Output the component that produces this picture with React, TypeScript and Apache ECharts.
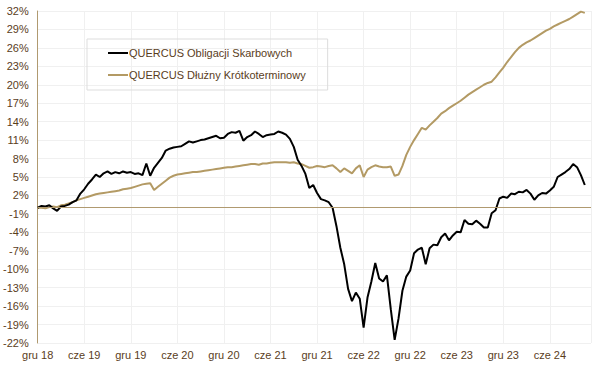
import React, { useEffect, useRef } from "react";
import * as echarts from "echarts";

// x positions in months since Dec 2018 (half-month steps)
const STEP_MONTHS = 0.5;

const xTickLabels = [
  "gru 18", "cze 19", "gru 19", "cze 20", "gru 20", "cze 21",
  "gru 21", "cze 22", "gru 22", "cze 23", "gru 23", "cze 24",
];

const seriesNames = [
  "QUERCUS Obligacji Skarbowych",
  "QUERCUS Dłużny Krótkoterminowy",
];

const obligacjiSkarbowych = [
  0.0, 0.3, 0.2, 0.4, -0.1, -0.5, 0.2, 0.3, 0.5, 0.9,
  1.2, 2.3, 3.0, 3.9, 4.6, 5.4, 5.0, 5.6, 5.9, 5.5,
  5.8, 5.6, 5.9, 5.7, 5.8, 5.5, 5.6, 5.3, 7.2, 5.2,
  6.5, 7.3, 8.1, 9.3, 9.6, 9.8, 9.9, 10.0, 10.4, 10.8,
  10.6, 10.8, 11.0, 11.1, 11.3, 11.5, 11.7, 11.3, 11.4, 12.0,
  12.3, 12.2, 12.5, 10.9, 11.5, 11.8, 12.4, 12.0, 11.5, 11.8,
  11.9, 12.0, 12.4, 12.2, 11.9, 11.2, 9.9, 7.8, 6.8, 5.5,
  3.2, 3.7, 2.4, 1.4, 1.2, 0.9, 0.0, -3.0, -6.5, -9.2,
  -13.2, -15.2, -13.8, -14.8, -19.5, -14.6, -12.0, -9.0, -11.5, -12.0,
  -11.0, -16.5, -21.5, -18.0, -13.5, -11.2, -10.2, -7.4, -6.8, -6.5,
  -9.2, -6.6, -6.0, -6.1, -4.8, -4.2, -5.3, -4.5, -3.9, -4.0,
  -2.0, -2.6, -2.7, -2.1, -2.6, -3.2, -3.2, -0.9, -0.4, 1.5,
  1.8, 1.6, 2.3, 2.2, 2.6, 2.5, 2.9, 2.3, 1.3, 2.0,
  2.4, 2.3, 2.8, 3.4, 5.0, 5.4, 5.8, 6.3, 7.1, 6.6,
  5.3, 3.7,
];

const dluznyKrotkoterminowy = [
  0.0, 0.0, -0.1, 0.1, 0.2, 0.1, 0.4, 0.5, 0.7, 0.9,
  1.2, 1.4, 1.6, 1.8, 2.0, 2.2, 2.3, 2.4, 2.5, 2.6,
  2.7, 2.8, 3.0, 3.1, 3.2, 3.4, 3.6, 3.8, 3.9, 4.0,
  2.9, 3.4, 3.9, 4.4, 4.9, 5.2, 5.4, 5.5, 5.6, 5.7,
  5.8, 5.8, 5.9, 6.0, 6.1, 6.2, 6.3, 6.4, 6.5, 6.6,
  6.6, 6.7, 6.8, 6.9, 7.0, 7.1, 7.1, 7.0, 7.2, 7.2,
  7.3, 7.4, 7.4, 7.4, 7.4, 7.3, 7.4, 7.2, 7.1, 6.8,
  6.5, 6.6, 6.8, 6.7, 6.6, 6.8, 6.9, 6.4, 5.8, 6.4,
  6.0, 5.6, 6.4, 6.9, 5.0, 6.2, 6.6, 6.9, 6.7, 6.6,
  6.6, 6.7, 5.2, 5.4, 6.8, 8.6, 9.9, 11.0, 12.0, 13.0,
  12.7, 13.4, 14.0, 14.6, 15.3, 15.7, 16.2, 16.6, 17.0, 17.4,
  17.9, 18.4, 18.8, 19.2, 19.6, 20.0, 20.3, 20.5, 21.2, 22.0,
  22.8, 23.7, 24.5, 25.3, 26.0, 26.5, 26.9, 27.2, 27.6, 28.0,
  28.4, 28.8, 29.1, 29.5, 29.8, 30.1, 30.4, 30.7, 31.1, 31.5,
  31.9, 31.7,
];

const Y_MIN = -22;
const Y_MAX = 32;
const Y_STEP = 3;
const X_MAX = 71.3;

const BLACK = "#000000";
const TAN = "#b39a64";
const AXIS_TAN = "#b09a70";
const LABEL = "#5a3d1c";
const GRID = "#f0f0f0";
const FONT = "Arial, 'Liberation Sans', sans-serif";

const toPoints = (vals: number[]) =>
  vals.map((v, i) => [i * STEP_MONTHS, v - Y_MIN]);

export default function App() {
  const ref = useRef<HTMLDivElement>(null);
  useEffect(() => {
    document.body.style.margin = "0";
    if (!ref.current) return;
    const chart = echarts.init(ref.current, undefined, { renderer: "svg" });
    chart.setOption({
      animation: false,
      backgroundColor: "#ffffff",
      grid: { left: 36, right: 10, top: 11, bottom: 34, containLabel: false },
      legend: {
        data: seriesNames,
        orient: "vertical",
        left: 87,
        top: 39,
        padding: [7, 22, 8, 21],
        itemGap: 8,
        itemWidth: 20,
        itemHeight: 2,
        icon: "rect",
        borderColor: "#dddddd",
        borderWidth: 1,
        textStyle: {
          color: LABEL, fontSize: 11, fontFamily: FONT,
          padding: [0, 0, 0, -4], lineHeight: 14, height: 14,
        },
      },
      xAxis: {
        type: "value",
        min: 0,
        max: X_MAX,
        interval: 6,
        axisLine: { show: false },
        axisTick: { show: false },
        splitLine: { show: true, lineStyle: { color: GRID, width: 1 } },
        axisLabel: {
          color: LABEL,
          fontSize: 11,
          fontFamily: FONT,
          margin: 6,
          showMaxLabel: false,
          formatter: (v: number) => {
            const idx = Math.round(v / 6);
            return Math.abs(v - idx * 6) < 1e-6 && xTickLabels[idx] ? xTickLabels[idx] : "";
          },
        },
      },
      yAxis: {
        type: "value",
        min: 0,
        max: Y_MAX - Y_MIN,
        interval: Y_STEP,
        axisLine: { show: true, lineStyle: { color: AXIS_TAN, width: 1 } },
        axisTick: { show: false },
        splitLine: { show: true, lineStyle: { color: GRID, width: 1 } },
        axisLabel: {
          color: LABEL,
          fontSize: 11,
          fontFamily: FONT,
          margin: 9,
          formatter: (v: number) => `${Math.round(v + Y_MIN)}%`,
        },
      },
      series: [
        {
          name: seriesNames[1],
          type: "line",
          data: toPoints(dluznyKrotkoterminowy),
          showSymbol: false,
          symbol: "none",
          z: 2,
          lineStyle: { color: TAN, width: 2 },
          itemStyle: { color: TAN },
          markLine: {
            silent: true,
            symbol: ["none", "none"],
            label: { show: false },
            emphasis: { disabled: true },
            lineStyle: { color: AXIS_TAN, width: 1, type: "solid", opacity: 1 },
            data: [{ yAxis: 0 - Y_MIN, lineStyle: { color: AXIS_TAN, width: 1, type: "solid" } }],
          },
        },
        {
          name: seriesNames[0],
          type: "line",
          data: toPoints(obligacjiSkarbowych),
          showSymbol: false,
          symbol: "none",
          z: 3,
          lineStyle: { color: BLACK, width: 2 },
          itemStyle: { color: BLACK },
        },
      ],
    });
    return () => chart.dispose();
  }, []);
  return <div ref={ref} style={{ width: 601, height: 377 }} />;
}
